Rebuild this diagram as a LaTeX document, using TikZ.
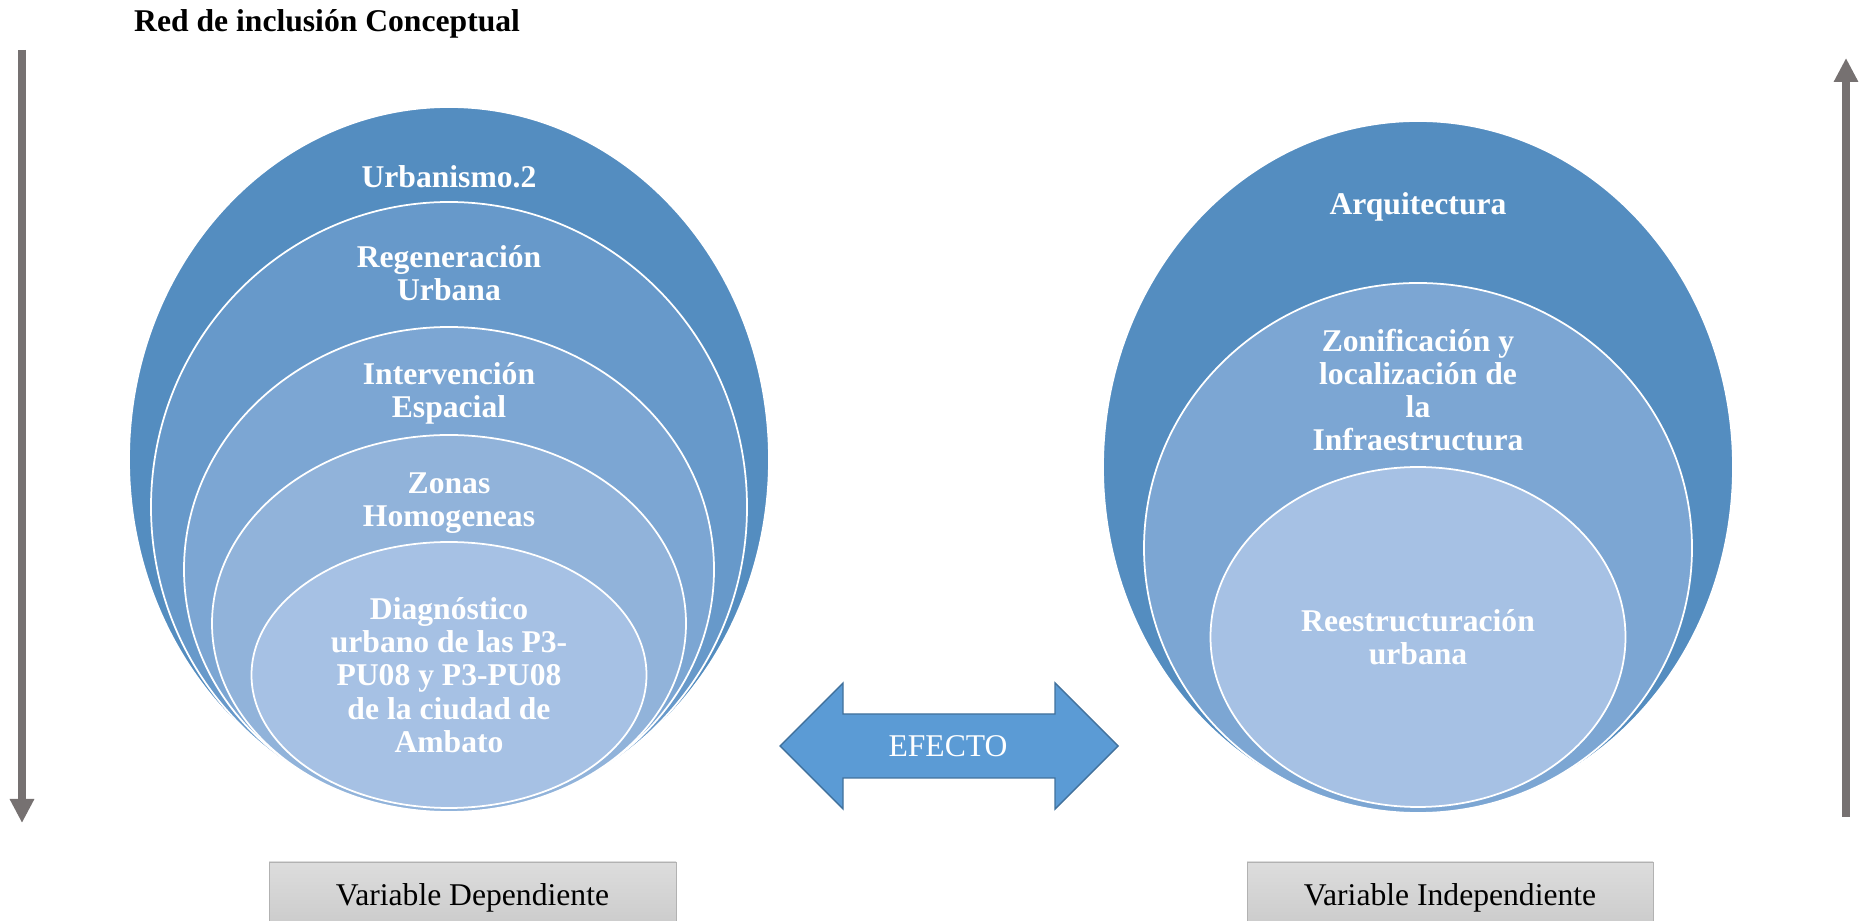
\documentclass[tikz,border=0pt]{standalone}
\usepackage{fontspec}
\setmainfont{Liberation Serif}
\usetikzlibrary{shapes.geometric, arrows.meta}

\definecolor{azul1}{RGB}{84,141,192}
\definecolor{azul2}{RGB}{103,153,202}
\definecolor{azul3}{RGB}{124,166,211}
\definecolor{azul4}{RGB}{145,179,218}
\definecolor{azul5}{RGB}{166,193,228}
\definecolor{flechaazul}{RGB}{91,155,213}
\definecolor{bordeazul}{RGB}{65,113,156}
\definecolor{grisflecha}{RGB}{118,113,113}

\begin{document}
\begin{tikzpicture}[capa/.style={ellipse, draw=white, line width=1pt,
        inner sep=0pt, outer sep=0pt},
      etiqueta/.style={text=white, align=center,
        font=\bfseries\fontsize{18}{18.9}\selectfont},
      caja/.style={draw=gray!60, top color=gray!27, bottom color=gray!42,
        minimum height=1.44cm, font=\fontsize{18}{20}\selectfont},
      vertical/.style={draw=grisflecha, line width=1.6mm,
        -{Triangle[length=4.8mm, width=4.6mm]}}]

      \useasboundingbox (0,0) rectangle (37.24,18.42);
      \clip (0,0) rectangle (37.24,18.42);

      \node[anchor=west, font=\bfseries\fontsize{18}{20}\selectfont] (titulo)
        at (2.56,17.94) {Red de inclusión Conceptual};

      % variable dependiente
      \foreach \nom/\col/\w/\h/\y in {%
        urb/azul1/12.8/14.1/9.23,%
        reg/azul2/11.92/12.2/8.28,%
        inte/azul3/10.6/9.7/7.03,%
        zon/azul4/9.48/7.54/5.95,%
        diag/azul5/7.9/5.32/4.92%
      }{ \node[capa, fill=\col, minimum width=\w cm, minimum height=\h cm]
           (\nom) at (8.98,\y) {}; }

      \node[etiqueta] (turb)  at (8.98,14.88) {Urbanismo.2};
      \node[etiqueta] (treg)  at (8.98,12.95) {Regeneración\\Urbana};
      \node[etiqueta] (tinte) at (8.98,10.55) {Intervención\\Espacial};
      \node[etiqueta] (tzon)  at (8.98,8.35)  {Zonas\\Homogeneas};
      \node[etiqueta] (tdiag) at (diag) {Diagnóstico\\urbano de las P3-\\PU08 y P3-PU08\\de la ciudad de\\Ambato};

      % variable independiente
      \foreach \nom/\col/\w/\h/\y in {%
        arq/azul1/12.6/13.84/9.08,%
        zonif/azul3/10.96/10.6/7.46,%
        rees/azul5/8.3/6.8/5.68%
      }{ \node[capa, fill=\col, minimum width=\w cm, minimum height=\h cm]
           (\nom) at (28.36,\y) {}; }

      \node[etiqueta] (tarq)   at (28.36,14.28) {Arquitectura};
      \node[etiqueta] (tzonif) at (28.36,10.62) {Zonificación y\\localización de\\la\\Infraestructura};
      \node[etiqueta] (trees)  at (rees) {Reestructuración\\urbana};

      % efecto
      \filldraw[fill=flechaazul, draw=bordeazul, line width=0.8pt]
        (15.6,3.5) -- (16.86,4.76) -- (16.86,4.14) -- (21.1,4.14) -- (21.1,4.76)
        -- (22.36,3.5) -- (21.1,2.24) -- (21.1,2.86) -- (16.86,2.86)
        -- (16.86,2.24) -- cycle;
      \node[text=white, font=\fontsize{18}{20}\selectfont] (efecto) at (18.96,3.5) {EFECTO};

      \node[caja, minimum width=8.14cm] (dep) at (9.45,0.46) {Variable Dependiente};
      \node[caja, minimum width=8.12cm] (indep) at (29.0,0.46) {Variable Independiente};

      \coordinate (izqA) at (0.44,17.42);
      \coordinate (izqB) at (0.44,1.96);
      \coordinate (derA) at (36.92,2.08);
      \coordinate (derB) at (36.92,17.26);
      \draw[vertical] (izqA) -- (izqB);
      \draw[vertical] (derA) -- (derB);
    \end{tikzpicture}
\end{document}
